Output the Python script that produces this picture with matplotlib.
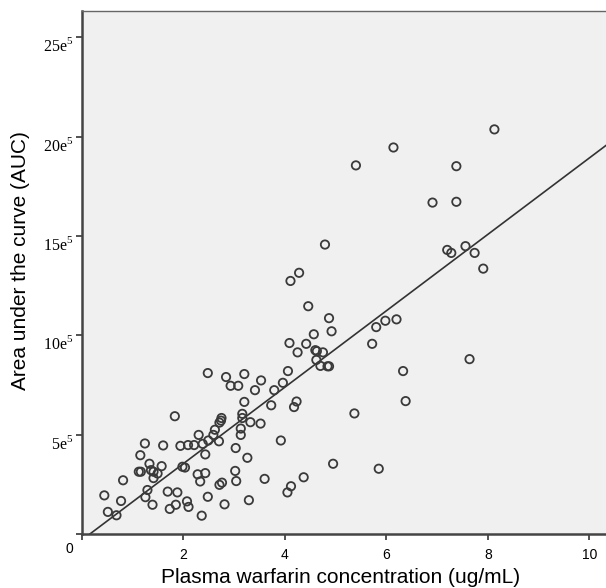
import matplotlib
matplotlib.use("Agg")
import matplotlib.pyplot as plt
import numpy as np

# plasma warfarin concentration (ug/mL) and AUC (in units of 1e5)
conc = [8.13, 6.14, 5.40, 7.38, 6.91, 7.38, 4.79, 7.20, 7.28, 7.56,
        7.74, 7.91, 4.11, 4.28, 4.46, 4.87, 4.92, 4.57, 4.09, 4.42,
        4.25, 4.60, 4.63, 4.75, 4.62, 4.70, 4.84, 4.87, 5.72, 5.80,
        5.98, 6.20, 7.64, 6.33, 6.38, 5.37, 4.95, 5.85, 4.06, 3.96,
        3.79, 4.23, 4.18, 3.73, 3.53, 3.41, 3.20, 3.08, 2.93, 2.84,
        2.48, 3.20, 3.16, 3.16, 3.32, 3.52, 3.13, 3.13, 2.75, 2.74,
        2.71, 2.62, 2.59, 2.70, 2.49, 2.30, 2.38, 2.21, 2.09, 1.94,
        1.83, 1.60, 1.24, 1.15, 3.03, 3.92, 3.26, 2.43, 1.98, 2.03,
        1.57, 1.33, 1.36, 1.41, 1.49, 1.12, 1.16, 1.41, 2.28, 2.43,
        3.02, 2.33, 2.76, 2.71, 3.04, 3.60, 4.37, 4.12, 4.05, 0.81,
        1.29, 1.25, 1.39, 1.69, 1.88, 1.73, 1.85, 2.07, 2.10, 2.48,
        2.81, 3.29, 2.36, 0.44, 0.51, 0.68, 0.77]
auc = [20.36, 19.45, 18.55, 18.51, 16.68, 16.72, 14.57, 14.30, 14.15, 14.49,
       14.15, 13.36, 12.74, 13.15, 11.47, 10.87, 10.21, 10.06, 9.62, 9.58,
       9.15, 9.26, 9.21, 9.15, 8.77, 8.47, 8.45, 8.45, 9.58, 10.42,
       10.74, 10.81, 8.81, 8.21, 6.70, 6.08, 3.55, 3.30, 8.21, 7.62,
       7.25, 6.68, 6.40, 6.49, 7.74, 7.25, 8.06, 7.47, 7.47, 7.91,
       8.11, 6.66, 6.06, 5.85, 5.64, 5.57, 5.32, 5.00, 5.85, 5.72,
       5.62, 5.26, 5.00, 4.68, 4.72, 5.00, 4.55, 4.49, 4.49, 4.45,
       5.94, 4.47, 4.57, 3.98, 4.34, 4.72, 3.85, 4.02, 3.40, 3.36,
       3.43, 3.55, 3.23, 3.15, 3.06, 3.15, 3.15, 2.83, 3.02, 3.08,
       3.19, 2.66, 2.60, 2.49, 2.68, 2.79, 2.87, 2.42, 2.11, 2.72,
       2.23, 1.87, 1.49, 2.15, 2.11, 1.28, 1.49, 1.66, 1.38, 1.89,
       1.51, 1.72, 0.94, 1.96, 1.13, 0.96, 1.68]

# fitted line
slope = 1.92
intercept = -0.28

y_ticks = [5, 10, 15, 20, 25]
x_ticks = [0, 2, 4, 6, 8, 10]

plt.rcParams['mathtext.fontset'] = 'custom'
plt.rcParams['mathtext.rm'] = 'Liberation Serif'

fig = plt.figure(figsize=(6.06, 5.88), dpi=100)
ax = fig.add_axes([0.1353, 0.0912, 0.8647, 0.8897])
ax.set_facecolor('#f0f0f0')

ax.scatter(conc, auc, s=36, facecolors='none', edgecolors='#3a3a3a',
           linewidths=1.3, zorder=3)

xs = np.array([0.145, 10.4])
ax.plot(xs, slope * xs + intercept, color='#333333', lw=1.2, zorder=2)

ax.set_xlim(0, 10.33)
ax.set_ylim(0, 26.3)

ax.set_xticks(x_ticks)
ax.set_xticklabels([''] + [str(t) for t in x_ticks[1:]],
                   family='Liberation Sans', fontsize=10)
ax.set_yticks([0] + y_ticks)
ax.set_yticklabels([''] + [r'%de$^{\mathrm{5}}$' % t for t in y_ticks],
                   family='Liberation Serif', fontsize=11.5)
for lab in ax.get_yticklabels():
    lab.set_va('top')
ax.tick_params(axis='both', direction='out', length=4.5, width=1.3,
               color='#444444')
ax.tick_params(axis='x', pad=5)
ax.tick_params(axis='y', pad=2)

# origin label sits apart from the other ticks
ax.text(-0.017, -0.015, '0', transform=ax.transAxes, ha='right', va='top',
        family='Liberation Sans', fontsize=10)

for side in ['left', 'bottom']:
    ax.spines[side].set_color('#444444')
    ax.spines[side].set_linewidth(1.8)
ax.spines['top'].set_color('#666666')
ax.spines['top'].set_linewidth(1.0)
ax.spines['right'].set_visible(False)

fig.text(341 / 606, 1 - 583 / 588, 'Plasma warfarin concentration (ug/mL)',
         ha='center', va='baseline', family='Liberation Sans', fontsize=15)
fig.text(21 / 606, 1 - 261 / 588, 'Area under the curve (AUC)',
         ha='center', va='center', rotation=90,
         family='Liberation Sans', fontsize=15)

fig.savefig('out.png', dpi=100)
